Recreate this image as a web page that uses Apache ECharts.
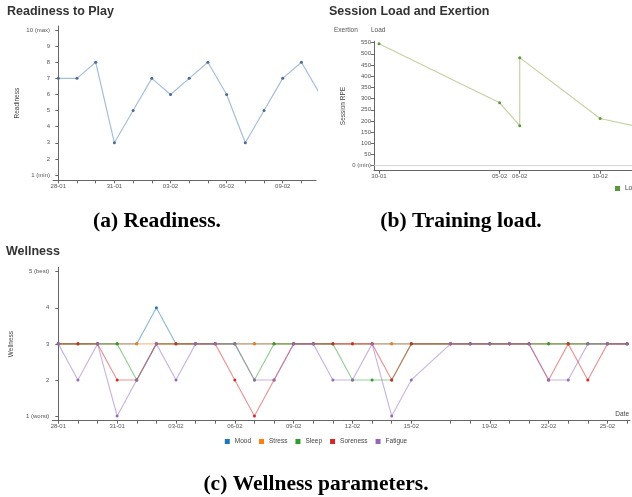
<!DOCTYPE html>
<html><head><meta charset="utf-8">
<script src="https://cdn.jsdelivr.net/npm/echarts@6/dist/echarts.min.js"></script>
<style>html,body{margin:0;padding:0;background:#fff;}#c{width:632px;height:497px;}</style>
</head><body><div id="c"></div>
<script>
// ---------- data ----------
const readinessDates = ['28-01','29-01','30-01','31-01','01-02','02-02','03-02','04-02','05-02','06-02','07-02','08-02','09-02','10-02','11-02'];
const readinessValues = [7,7,8,3,5,7,6,7,8,6,3,5,7,8,6];
const readinessTickLabels = ['1 (min)','2','3','4','5','6','7','8','9','10 (max)'];

const loadDates = ['30-01','05-02','06-02','06-02','10-02','12-02'];
const loadValues = [545,281,179,483,211,172];
const loadTickLabels = ['0 (min)','50','100','150','200','250','300','350','400','450','500','550'];

const wellnessDates = ['28-01','29-01','30-01','31-01','01-02','02-02','03-02','04-02','05-02','06-02','07-02','08-02','09-02','10-02','11-02','12-02','13-02','14-02','15-02','17-02','18-02','19-02','20-02','21-02','22-02','23-02','24-02','25-02','26-02'];
const moodValues     = [3,3,3,3,3,4,3,3,3,3,3,3,3,3,3,3,3,3,3,3,3,3,3,3,3,3,3,3,3];
const stressValues   = [3,3,3,3,3,3,3,3,3,3,3,3,3,3,3,3,3,3,3,3,3,3,3,3,3,3,3,3,3];
const sleepValues    = [3,3,3,3,2,3,3,3,3,3,2,3,3,3,3,2,2,2,3,3,3,3,3,3,3,3,3,3,3];
const sorenessValues = [3,3,3,2,2,3,3,3,3,2,1,2,3,3,3,3,3,2,3,3,3,3,3,3,2,3,2,3,3];
const fatigueValues  = [3,2,3,1,2,3,2,3,3,3,2,2,3,3,2,2,3,1,2,3,3,3,3,3,2,2,3,3,3];
const wellnessNames = ['Mood','Stress','Sleep','Soreness','Fatigue'];
const wellnessColors = ['#1f77b4','#ff7f0e','#2ca02c','#d62728','#9467bd'];
const wellnessTickLabels = ['1 (worst)','2','3','4','5 (best)'];

// ---------- helpers ----------
const YEAR = 2024, DAY = 86400000;
function ts(s){ const p = s.split('-').map(Number); return Date.UTC(YEAR, p[1]-1, p[0]); }
const T0 = ts('28-01');
function day(s){ return Math.round((ts(s)-T0)/DAY); }   // day index since first date
function fmt(v){ const d = new Date(T0 + Math.round(v)*DAY); const z = n => (n<10?'0':'')+n; return z(d.getUTCDate())+'-'+z(d.getUTCMonth()+1); }
const FONT = 'Liberation Sans';
const axisCol = '#666';
const lab = {fontSize:6, color:'#555', fontFamily:FONT, margin:3};

function dateAxis(grid, dates, labelEvery, min, max, extra){
  const uniq = [...new Set(dates)].map(day).filter(v=>v>=min && v<=max);
  return Object.assign({
    type:'value', gridIndex:grid, min:min, max:max,
    axisLine:{show:true, onZero:false, lineStyle:{color:axisCol, width:1}},
    axisTick:{show:true, length:3, customValues:uniq, lineStyle:{color:axisCol}},
    axisLabel:Object.assign({}, lab, {customValues:uniq.filter((v,i)=>i%labelEvery===0), formatter:fmt}),
    splitLine:{show:false}
  }, extra||{});
}
function valAxis(grid, min, max, ticks, labels, name, gap){
  return {
    type:'value', gridIndex:grid, min:min, max:max,
    name:name, nameLocation:'middle', nameGap:gap,
    nameTextStyle:{fontSize:6.5, color:'#444', fontFamily:FONT},
    axisLine:{show:true, lineStyle:{color:axisCol, width:1}},
    axisTick:{show:true, length:3, customValues:ticks, lineStyle:{color:axisCol}},
    axisLabel:Object.assign({}, lab, {customValues:ticks, formatter:v=>labels[ticks.indexOf(Math.round(v))]}),
    splitLine:{show:false}
  };
}
const rTicks = readinessTickLabels.map((t,i)=>i+1);
const lTicks = loadTickLabels.map((t,i)=>i*50);
const wTicks = wellnessTickLabels.map((t,i)=>i+1);

const titleStyle = {fontSize:12.5, fontWeight:'bold', color:'#333', fontFamily:FONT};
const capFont = 'bold 21.5px "Liberation Serif"';
const wellnessSeriesValues = [moodValues, stressValues, sleepValues, sorenessValues, fatigueValues];
const d30 = day('30-01');

const chart = echarts.init(document.getElementById('c'), null, {renderer:'canvas'});
chart.setOption({
  animation:false,
  title:[
    {text:'Readiness to Play', left:7, top:5, padding:0, textStyle:titleStyle},
    {text:'Session Load and Exertion', left:329, top:5, padding:0, textStyle:titleStyle},
    {text:'Wellness', left:6, top:245, padding:0, textStyle:titleStyle}
  ],
  grid:[
    {left:53, top:26, width:263, height:154.3},
    {left:374, top:41.3, width:258, height:129.4},
    {left:52.3, top:267.4, width:577.7, height:153.3}
  ],
  xAxis:[
    dateAxis(0, readinessDates, 3, -0.283, 13.78),
    dateAxis(1, loadDates, 1, d30-0.25, d30+12.586),
    dateAxis(2, wellnessDates, 3, -0.306, 29.15,
      {name:'Date', nameLocation:'end', nameGap:-1,
       nameTextStyle:{fontSize:6.5, color:'#444', fontFamily:FONT, align:'right', verticalAlign:'bottom', padding:[0,0,3,0]}})
  ],
  yAxis:[
    valAxis(0, 0.67, 10.25, rTicks, readinessTickLabels, 'Readiness', 32),
    valAxis(1, -22.4, 556, lTicks, loadTickLabels, 'Session RPE', 27),
    valAxis(2, 0.87, 5.12, wTicks, wellnessTickLabels, 'Wellness', 34)
  ],
  legend:[
    {data:['Load'], left:615, top:185, padding:0, icon:'rect', itemWidth:5, itemHeight:5,
     textStyle:{fontSize:6.5, color:'#444', fontFamily:FONT}},
    {data:wellnessNames, left:'center', top:438, padding:0, icon:'rect', itemWidth:5, itemHeight:5, itemGap:8,
     textStyle:{fontSize:6.5, color:'#444', fontFamily:FONT}}
  ],
  graphic:[
    {type:'text', x:334, y:30, style:{text:'Exertion', fill:'#555', font:'6.5px "Liberation Sans"', verticalAlign:'middle'}},
    {type:'text', x:371, y:30, style:{text:'Load', fill:'#555', font:'6.5px "Liberation Sans"', verticalAlign:'middle'}},
    {type:'text', x:157, y:221, style:{text:'(a) Readiness.', fill:'#000', font:capFont, align:'center', verticalAlign:'middle'}},
    {type:'text', x:461, y:221, style:{text:'(b) Training load.', fill:'#000', font:capFont, align:'center', verticalAlign:'middle'}},
    {type:'text', x:316, y:484, style:{text:'(c) Wellness parameters.', fill:'#000', font:capFont, align:'center', verticalAlign:'middle'}}
  ],
  series:[
    {type:'line', name:'Readiness', xAxisIndex:0, yAxisIndex:0,
     data:readinessDates.map((d,i)=>[day(d), readinessValues[i]]),
     symbol:'circle', symbolSize:3, lineStyle:{color:'#a6bfd9', width:1.2},
     itemStyle:{color:'#4a6a8f'}},
    {type:'line', name:'Load', xAxisIndex:1, yAxisIndex:1,
     data:loadDates.map((d,i)=>[day(d), loadValues[i]]),
     symbol:'circle', symbolSize:3, lineStyle:{color:'#c3d3a3', width:1.2},
     itemStyle:{color:'#5a9a3c'},
     markLine:{silent:true, symbol:'none', label:{show:false}, lineStyle:{color:'#d6d6d6', width:1, type:'solid'}, data:[{yAxis:0}]}}
  ].concat(wellnessNames.map((n,k)=>({
     type:'line', name:n, xAxisIndex:2, yAxisIndex:2,
     data:wellnessDates.map((d,i)=>[day(d), wellnessSeriesValues[k][i]]),
     symbol:'circle', symbolSize:3, lineStyle:{color:wellnessColors[k], width:1.1, opacity:0.5},
     itemStyle:{color:wellnessColors[k]}
  })))
});
</script></body></html>
